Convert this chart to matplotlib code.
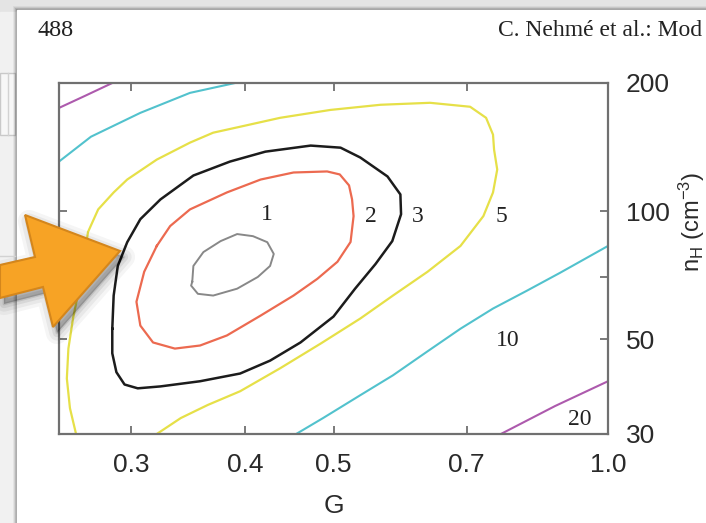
import numpy as np
import matplotlib
matplotlib.use('Agg')
import matplotlib.pyplot as plt
from matplotlib.patches import Polygon, Rectangle
from matplotlib.ticker import FixedLocator, NullLocator

plt.rcParams['font.family'] = ['Liberation Sans', 'DejaVu Sans']
plt.rcParams['mathtext.fontset'] = 'custom'
plt.rcParams['mathtext.rm'] = 'Liberation Sans'
plt.rcParams['mathtext.it'] = 'Liberation Sans:italic'

# contour lines: G (x) and n_H in cm^-3 (y)
c1_G = [0.350, 0.351, 0.360, 0.376, 0.392, 0.408, 0.423, 0.430, 0.426, 0.413, 0.392, 0.369, 0.355, 0.349, 0.350]
c1_n = [68.3, 74.4, 80.2, 85.1, 88.4, 87.4, 84.6, 79.4, 74.4, 70.1, 65.8, 63.4, 64.0, 66.9, 68.3]

c2_G = [0.320, 0.331, 0.348, 0.382, 0.416, 0.452, 0.492, 0.508, 0.520, 0.524, 0.526, 0.522, 0.505,
        0.480, 0.452, 0.416, 0.382, 0.357, 0.335, 0.317, 0.307, 0.304, 0.310, 0.320]
c2_n = [82.9, 92.3, 101.0, 110.7, 118.7, 123.3, 124.0, 122.0, 115.0, 106.6, 97.4, 84.7, 76.1,
        69.4, 63.4, 56.9, 51.1, 48.4, 47.6, 49.2, 53.9, 61.3, 72.1, 82.9]

c3_G = [0.286, 0.287, 0.290, 0.297, 0.307, 0.323, 0.351, 0.385, 0.421, 0.472, 0.509, 0.535,
        0.573, 0.592, 0.593, 0.580, 0.556, 0.528, 0.500, 0.460, 0.426, 0.395, 0.357, 0.323,
        0.305, 0.295, 0.289, 0.286, 0.286]
c3_n = [53.0, 63.4, 74.4, 84.6, 95.8, 106.6, 121.3, 130.8, 138.0, 142.6, 141.0, 133.7,
        120.7, 109.5, 98.4, 85.1, 75.2, 65.8, 56.6, 49.2, 44.6, 41.6, 39.9, 38.8,
        38.4, 39.2, 41.9, 46.4, 53.0]

c5_G = [0.261, 0.257, 0.255, 0.256, 0.259, 0.263, 0.266, 0.269, 0.276, 0.287, 0.297, 0.320,
        0.348, 0.369, 0.395, 0.437, 0.496, 0.563, 0.638, 0.706, 0.735, 0.748, 0.750, 0.756,
        0.748, 0.730, 0.689, 0.634, 0.581, 0.535, 0.484, 0.437, 0.395, 0.364, 0.340, 0.320]
c5_n = [30.0, 34.5, 40.5, 47.6, 56.0, 65.8, 76.1, 89.4, 101.0, 110.7, 118.7, 132.2,
        144.9, 152.9, 157.9, 165.7, 172.9, 177.8, 179.7, 175.9, 165.7, 151.3, 139.5, 125.3,
        110.7, 97.4, 82.9, 72.1, 63.4, 56.0, 48.9, 42.8, 37.8, 35.1, 32.7, 30.0]

c10a_G = [0.250, 0.271, 0.307, 0.348, 0.390]
c10a_n = [130.8, 149.6, 170.2, 189.6, 200.0]
c10b_G = [0.455, 0.487, 0.535, 0.581, 0.634, 0.689, 0.748, 0.815, 0.886, 1.000]
c10b_n = [30.0, 32.7, 37.0, 41.2, 46.9, 53.0, 59.1, 65.1, 71.7, 82.9]

c20a_G = [0.250, 0.267, 0.286]
c20a_n = [174.8, 186.6, 200.0]
c20b_G = [0.763, 0.875, 1.000]
c20b_n = [30.0, 34.9, 39.9]

level_text = ['1', '2', '3', '5', '10', '20']
level_G = [0.423, 0.549, 0.619, 0.765, 0.777, 0.930]
level_n = [98.4, 97.4, 97.4, 97.4, 49.8, 32.4]

x_ticks = [0.3, 0.4, 0.5, 0.7, 1.0]
x_ticklabels = ['0.3', '0.4', '0.5', '0.7', '1.0']
y_ticks = [30, 50, 70, 100, 200]
y_ticklabels = ['30', '50', '', '100', '200']

W, H = 706, 523
fig = plt.figure(figsize=(W / 100, H / 100), dpi=100)

# screenshot background (page, left panel, top strip)
bg = fig.add_axes([0, 0, 1, 1], zorder=0)
bg.set_xlim(0, W)
bg.set_ylim(H, 0)
bg.axis('off')
bg.add_patch(Rectangle((0, 0), W, H, color='#e4e4e4'))
bg.add_patch(Rectangle((0, 12), 17, H, color='#f1f1f1'))
bg.add_patch(Rectangle((0, 73), 15, 62, fc='#f7f7f7', ec='#c9c9c9', lw=1))
bg.plot([8, 8], [73, 135], color='#d2d2d2', lw=1)
bg.plot([0, 15], [256, 256], color='#d2d2d2', lw=1)
for i, a in enumerate([0.05, 0.08, 0.12, 0.16]):
    bg.add_patch(Rectangle((13 + i, 6 + i), W, H, color='k', alpha=a, lw=0))
bg.add_patch(Rectangle((17, 10), W, H, color='white'))
bg.text(38, 30, '488', family='Liberation Serif', fontsize=17.5, va='center', ha='left', color='#222222')
bg.text(498, 30, 'C. Nehmé et al.: Mod', family='Liberation Serif', fontsize=17,
        va='center', ha='left', color='#222222')
bg.text(692, 222, r'n$_\mathrm{H}$ (cm$^{-3}$)', rotation=90, ha='center', va='center',
        fontsize=17, color='#2a2a2a')

# the chart
ax = fig.add_axes([59 / W, 1 - 434 / H, 549 / W, 351 / H], zorder=1)
ax.set_xscale('log')
ax.set_yscale('log')
ax.set_xlim(0.25, 1.0)
ax.set_ylim(30, 200)
ax.patch.set_alpha(0)

ax.plot(c20a_G, c20a_n, color='#ad5aad', lw=1.5)
ax.plot(c20b_G, c20b_n, color='#ad5aad', lw=1.5)
ax.plot(c10a_G, c10a_n, color='#52c2cd', lw=1.5)
ax.plot(c10b_G, c10b_n, color='#52c2cd', lw=1.5)
ax.plot(c5_G, c5_n, color='#e6e048', lw=1.6)
ax.plot(c3_G, c3_n, color='#1c1c1c', lw=1.8)
ax.plot(c2_G, c2_n, color='#ec6a50', lw=1.6)
ax.plot(c1_G, c1_n, color='#888888', lw=1.4)

for t, g, n in zip(level_text, level_G, level_n):
    ax.text(g, n, t, family='Liberation Serif', fontsize=17, ha='center', va='center', color='#222222')

ax.xaxis.set_major_locator(FixedLocator(x_ticks))
ax.xaxis.set_minor_locator(NullLocator())
ax.set_xticklabels(x_ticklabels)
ax.yaxis.set_major_locator(FixedLocator(y_ticks))
ax.yaxis.set_minor_locator(NullLocator())
ax.set_yticklabels(y_ticklabels)
ax.tick_params(which='both', direction='in', length=6, width=1.3, color='#707070',
               top=True, right=True, left=True, bottom=True,
               labelleft=False, labelright=True, labelsize=19, labelcolor='#2a2a2a')
ax.tick_params(axis='x', pad=14)
ax.tick_params(axis='y', pad=13)
for s in ax.spines.values():
    s.set_color('#707070')
    s.set_linewidth(1.6)
ax.set_xlabel('G', fontsize=19, color='#2a2a2a', labelpad=12)

# orange arrow drawn over the screenshot
ov = fig.add_axes([0, 0, 1, 1], zorder=3)
ov.set_xlim(0, W)
ov.set_ylim(H, 0)
ov.axis('off')
arrow_x = np.array([0, 35, 25, 120, 53, 43, 0])
arrow_y = np.array([265, 257, 215, 251, 327, 287, 298])
for lw, a in [(16, 0.04), (11, 0.05), (6, 0.07), (2, 0.1)]:
    ov.add_patch(Polygon(np.c_[arrow_x + 4, arrow_y + 6], closed=True, fc='k', ec='k',
                         lw=lw, alpha=a, joinstyle='round'))
ov.add_patch(Polygon(np.c_[arrow_x, arrow_y], closed=True, fc='#f7a325', ec='#d4861c',
                     lw=1.5, joinstyle='miter'))

fig.savefig('out.png', dpi=100)
